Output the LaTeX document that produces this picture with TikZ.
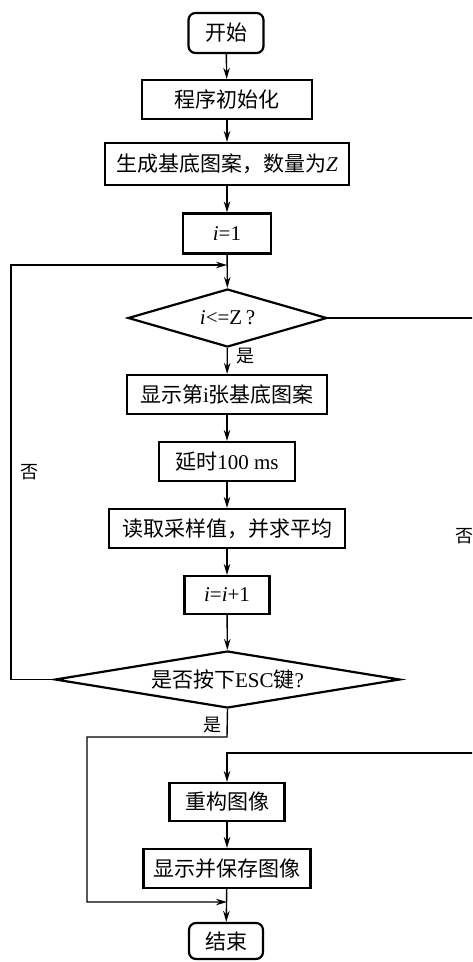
\documentclass[tikz,border=0pt]{standalone}
\usepackage{fontspec}
\setmainfont{Liberation Serif}
\newfontfamily\cjk{Noto Sans CJK SC}
\usetikzlibrary{shapes.geometric,arrows.meta}
\begin{document}
\begin{tikzpicture}[x=1pt,y=-1pt,
  box/.style={draw,line width=2.2pt,inner sep=0pt,font=\fontsize{21}{24}\selectfont},
  term/.style={box,rounded corners=7pt},
  dec/.style={draw,diamond,line width=2.2pt,inner sep=0pt,font=\fontsize{21}{24}\selectfont},
  ln/.style={line width=1.4pt},
  arr/.style={line width=1.4pt,-{Stealth[length=11pt,width=6.5pt]}},
  lab/.style={inner sep=0pt,font=\fontsize{18}{20}\selectfont\cjk}]
\useasboundingbox (0,0) rectangle (472,962);
\fill[white] (0,0) rectangle (472,962);
\clip (0,0) rectangle (472,962);

\node[term,minimum width=75,minimum height=40] (start) at (226,33) {\cjk 开始};
\node[box,minimum width=170,minimum height=39] (init) at (227,99.5) {\cjk 程序初始化};
\node[box,minimum width=244,minimum height=42] (gen) at (227,164) {{\cjk 生成基底图案，数量为}\textit{Z}};
\node[box,minimum width=88,minimum height=40] (i1) at (227,233.5) {\textit{i}=1};
\node[dec,minimum width=199,minimum height=58] (d1) at (227.5,318) {\makebox[0pt]{\textit{i}<=Z\,?}};
\node[box,minimum width=200,minimum height=39] (show) at (227,394.5) {{\cjk 显示第}i{\cjk 张基底图案}};
\node[box,minimum width=136,minimum height=39] (delay) at (227,461.5) {{\cjk 延时}100 ms};
\node[box,minimum width=236,minimum height=39] (read) at (227,528.5) {\cjk 读取采样值，并求平均};
\node[box,minimum width=85,minimum height=38] (inc) at (227,595) {\textit{i}=\textit{i}+1};
\node[dec,minimum width=345,minimum height=57] (d2) at (227.5,679.5) {\makebox[0pt]{{\cjk 是否按下}ESC{\cjk 键}?}};
\node[box,minimum width=115,minimum height=38] (rec) at (227,802) {\cjk 重构图像};
\node[box,minimum width=167,minimum height=39] (save) at (227,868.5) {\cjk 显示并保存图像};
\node[term,minimum width=74,minimum height=36] (end) at (226,941) {\cjk 结束};

\coordinate (j1) at (227,265);
\coordinate (L1) at (11,0);
\coordinate (j2) at (227,753);
\coordinate (R1) at (478,0);
\coordinate (j3) at (227,737);
\coordinate (L2) at (87,0);
\coordinate (j4) at (227,902);

\draw[arr] (start) -- (init);
\draw[arr] (init) -- (gen);
\draw[arr] (gen) -- (i1);
\draw[arr] (i1) -- (d1);
\draw[arr] (d1) -- (show);
\draw[arr] (show) -- (delay);
\draw[arr] (delay) -- (read);
\draw[arr] (read) -- (inc);
\draw[arr] (inc) -- (d2);
\draw[arr] (rec) -- (save);
\draw[arr] (save) -- (end);

\draw[arr] (d2.west) -- (d2.west -| L1) -- (j1 -| L1) -- (j1);
\draw[arr] (d1.east) -- (d1.east -| R1) -- (j2 -| R1) -- (j2) -- (rec);
\draw[arr] (d2.south) -- (j3) -- (j3 -| L2) -- (j4 -| L2) -- (j4);

\node[lab] (yes1) at (245,356) {是};
\node[lab] (yes2) at (212,725) {是};
\node[lab] (no1) at (29,472) {否};
\node[lab] (no2) at (464,536) {否};
\end{tikzpicture}
\end{document}
